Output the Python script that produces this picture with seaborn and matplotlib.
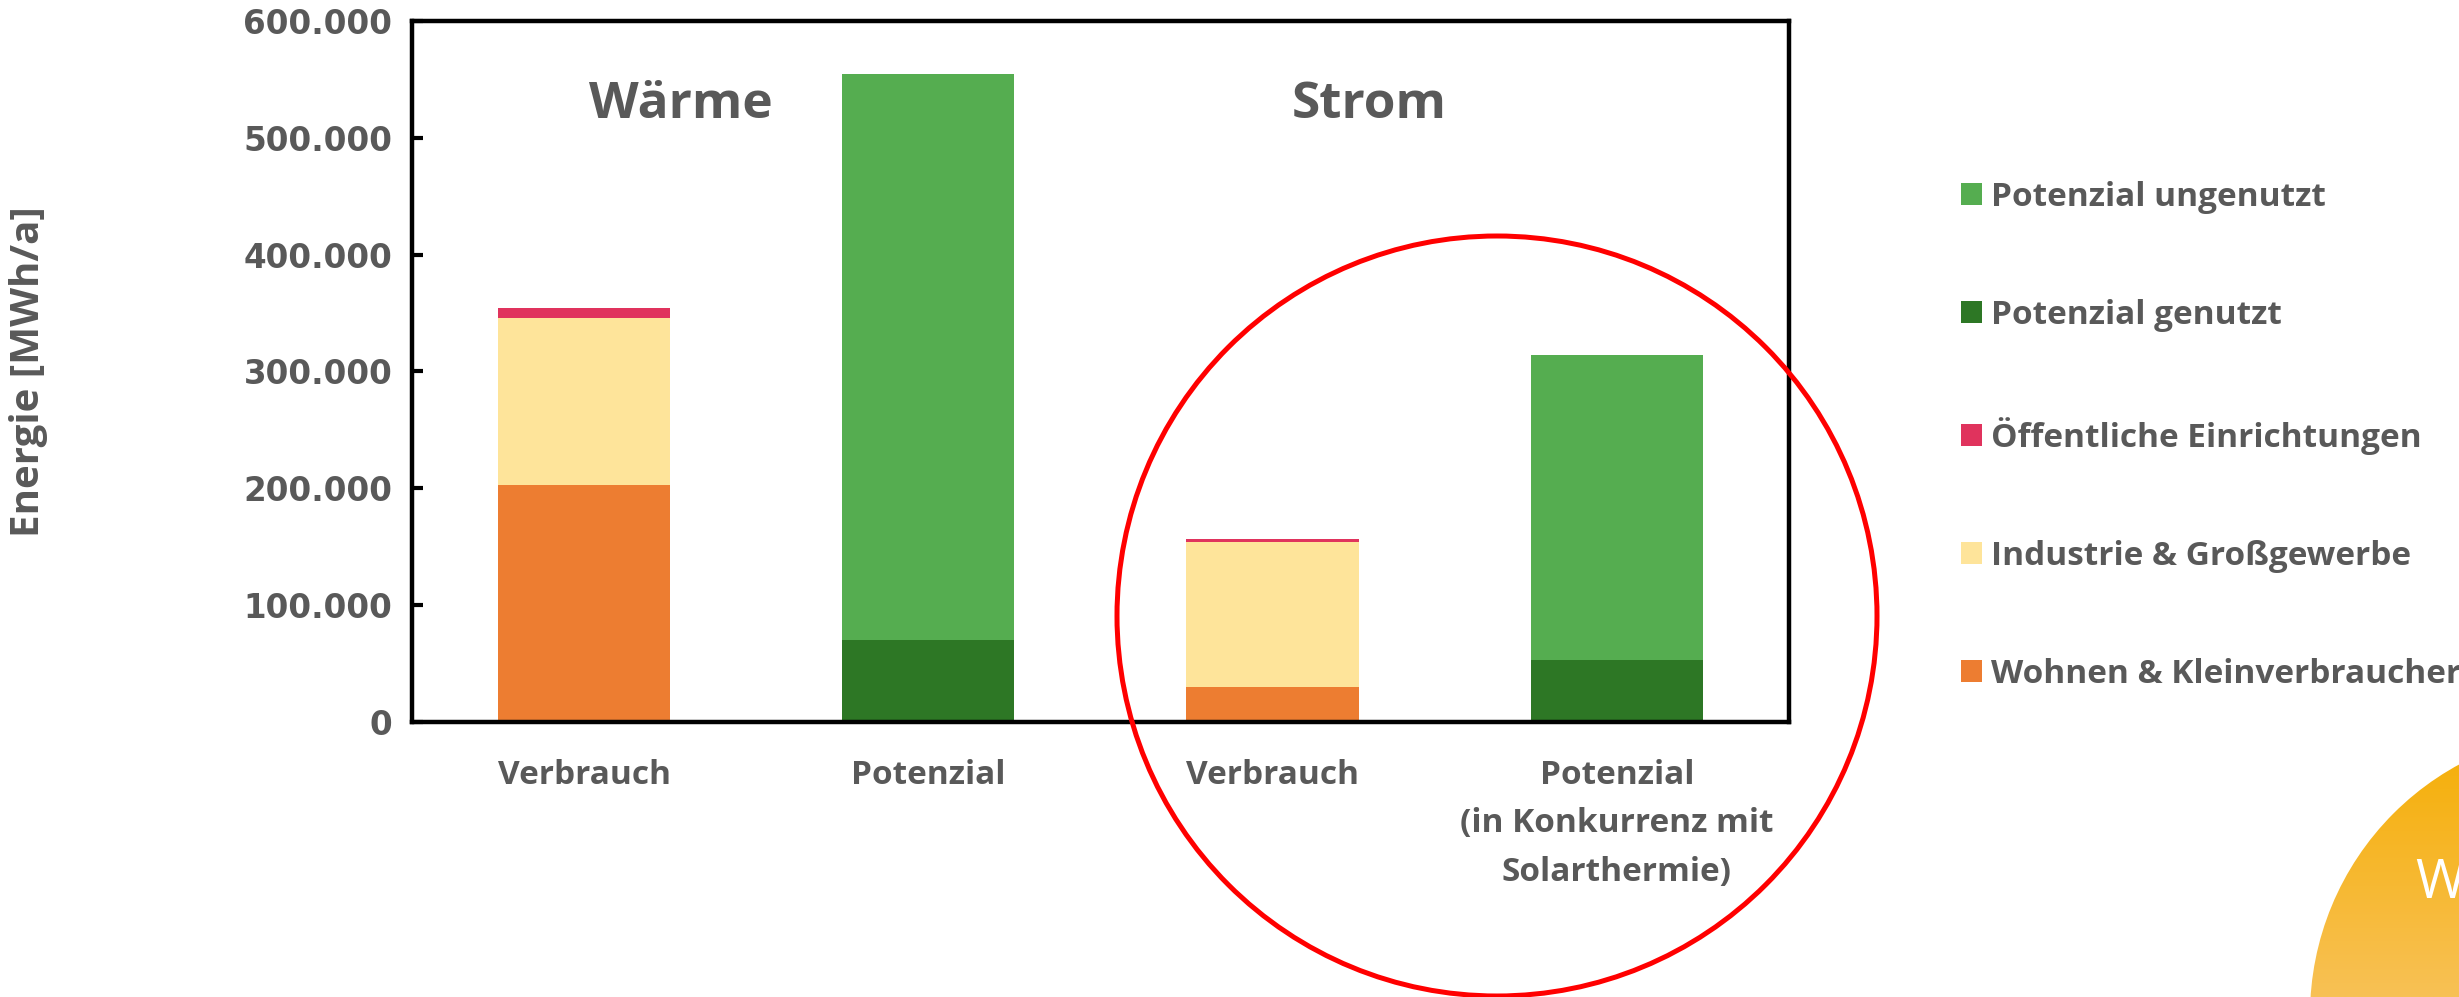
import numpy as np
import pandas as pd
import matplotlib.pyplot as plt
import seaborn as sns
from matplotlib.patches import Ellipse, Circle, Patch
from matplotlib.colors import LinearSegmentedColormap

sns.set_theme(style="ticks")
plt.rcParams['font.family'] = ['Open Sans', 'DejaVu Sans']

# data (MWh/a)
bar_ids = ["Wärme Verbrauch", "Wärme Potenzial", "Strom Verbrauch", "Strom Potenzial"]
tick_labels = ["Verbrauch", "Potenzial", "Verbrauch", "Potenzial\n(in Konkurrenz mit\nSolarthermie)"]
wohnen = [203000, 0, 30000, 0]
industrie = [143000, 0, 124000, 0]
oeffentlich = [8500, 0, 2300, 0]
genutzt = [0, 70000, 0, 53000]
ungenutzt = [0, 485000, 0, 261000]
y_ticks = [0, 100000, 200000, 300000, 400000, 500000, 600000]

# stacking order bottom -> top
segments = [
    ("Wohnen & Kleinverbraucher", wohnen, "#ED7D31"),
    ("Industrie & Großgewerbe", industrie, "#FEE49A"),
    ("Öffentliche Einrichtungen", oeffentlich, "#E0335D"),
    ("Potenzial genutzt", genutzt, "#2D7725"),
    ("Potenzial ungenutzt", ungenutzt, "#55AD50"),
]

grey = "#595959"

fig = plt.figure(figsize=(24.59, 9.97), dpi=100)
ax = fig.add_axes([0.1675, 0.2758, 0.56, 0.7032])

df = pd.DataFrame({"bar": bar_ids})
bottom = np.zeros(len(bar_ids))
for name, vals, col in segments:
    df[name] = vals
    sns.barplot(x=df["bar"], y=df[name], color=col, width=0.5, bottom=bottom,
                linewidth=0, saturation=1, ax=ax)
    bottom = bottom + np.array(vals)

ax.set_ylim(0, 600000)
ax.set_xlim(-0.5, 3.5)
ax.set_yticks(y_ticks)
ax.set_yticklabels([f"{v:,.0f}".replace(",", ".") for v in y_ticks],
                   fontfamily="DejaVu Sans", fontweight="bold", fontsize=23.5, color=grey)
ax.set_xticks(range(len(bar_ids)))
ax.set_xticklabels(tick_labels, fontweight="bold", fontsize=24, color=grey,
                   linespacing=1.62)
ax.set_xlabel("")
ax.set_ylabel("Energie [MWh/a]", fontweight="bold", fontsize=29, color=grey)
ax.yaxis.set_label_coords(-0.264, 0.5)

ax.tick_params(axis="y", direction="in", length=8, width=3, pad=14, color="black")
ax.tick_params(axis="x", length=0, pad=26.5)
for s in ax.spines.values():
    s.set_visible(True)
    s.set_color("black")
    s.set_linewidth(3.2)

ax.text(0.28, 528000, "Wärme", ha="center", va="center", fontsize=37,
        fontweight="bold", color=grey)
ax.text(2.28, 528000, "Strom", ha="center", va="center", fontsize=37,
        fontweight="bold", color=grey)

# legend
handles = [Patch(facecolor=c, edgecolor="none", label=n) for n, _, c in segments[::-1]]
leg = fig.legend(handles=handles, loc="upper left", bbox_to_anchor=(0.792, 0.832),
                 frameon=False, prop={"family": "Open Sans", "weight": "bold", "size": 24},
                 handlelength=0.62, handleheight=0.62, handletextpad=0.28,
                 labelspacing=2.55, borderaxespad=0)
for t in leg.get_texts():
    t.set_color(grey)

# red highlight circle around Strom
fig.add_artist(Ellipse((1497 / 2459, 1 - 616 / 997), 2 * 380 / 2459, 2 * 380 / 997,
                       transform=fig.transFigure, fill=False, edgecolor="#FF0000",
                       linewidth=3.6, zorder=10))

# orange sun shape in lower right corner
bg = fig.add_axes([0, 0, 1, 1], zorder=-1)
bg.set_xlim(0, 2459)
bg.set_ylim(997, 0)
bg.axis("off")
sun = Circle((2595, 1015), 285, facecolor="none", edgecolor="none")
bg.add_patch(sun)
grad = np.linspace(0, 1, 256).reshape(-1, 1)
cmap = LinearSegmentedColormap.from_list("sun", ["#F5AD00", "#F8C155"])
im = bg.imshow(grad, extent=[2290, 2459, 997, 720], cmap=cmap, aspect="auto")
im.set_clip_path(sun)
bg.set_xlim(0, 2459)
bg.set_ylim(997, 0)
bg.text(2415, 898, "W", color="white", fontsize=39, ha="left", va="baseline",
        fontfamily="Open Sans")

fig.savefig("out.png", dpi=100)
